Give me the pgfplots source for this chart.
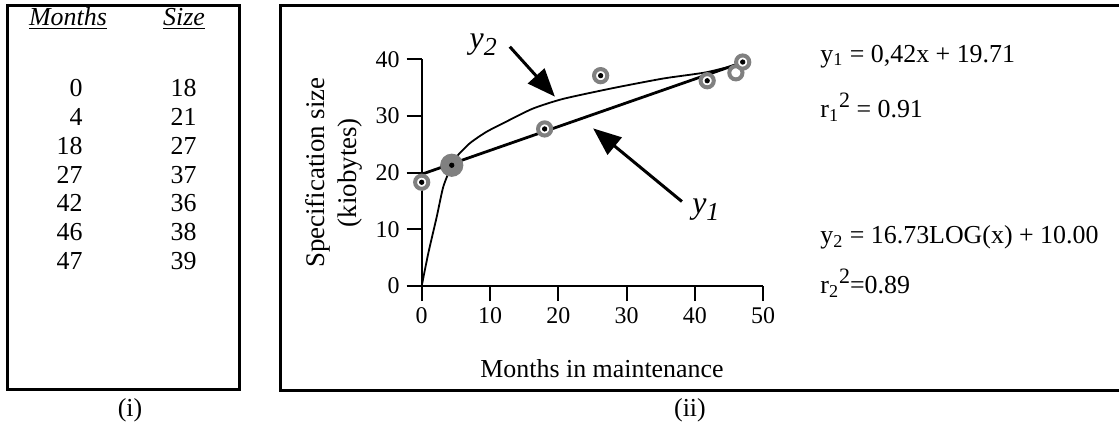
\documentclass[border=0pt]{standalone}
\usepackage{fontspec}
\setmainfont{Liberation Serif}
\usepackage{pgfplots}
\pgfplotsset{compat=1.18}
\usetikzlibrary{arrows.meta}
\begin{document}
\begin{tikzpicture}
\begin{scope}[x=0.5bp,y=-0.5bp]
\draw[line width=1.5bp] (8,6) rectangle (240,390);
\draw[line width=1.5bp] (281,6) rectangle (1135,391);
% table (i)
\node[anchor=base,inner sep=0pt] at (68,25) {\fontsize{13}{13}\selectfont\underline{\textit{Months}}};
\node[anchor=base,inner sep=0pt] at (184,25) {\fontsize{13}{13}\selectfont\underline{\textit{Size}}};
\foreach \m/\s [count=\i from 0] in {0/18,4/21,18/27,27/37,42/36,46/38,47/39}{
  \node[anchor=base east,inner sep=0pt] at (83,{97+28.7*\i}) {\fontsize{13}{13}\selectfont \m};
  \node[anchor=base east,inner sep=0pt] at (197,{97+28.7*\i}) {\fontsize{13}{13}\selectfont \s};
}
\node[anchor=center,inner sep=0pt] at (130,410) {\fontsize{13}{13}\selectfont (i)};
\node[anchor=center,inner sep=0pt] at (690,410) {\fontsize{13}{13}\selectfont (ii)};
% equations
\node[anchor=base west,inner sep=0pt] at (820,62) {\fontsize{13}{13}\selectfont y\textsubscript{1} = 0,42x + 19.71};
\node[anchor=base west,inner sep=0pt] at (820,118) {\fontsize{13}{13}\selectfont r\textsubscript{1}\raisebox{5bp}{\fontsize{11}{11}\selectfont 2} = 0.91};
\node[anchor=base west,inner sep=0pt] at (820,244) {\fontsize{13}{13}\selectfont y\textsubscript{2} = 16.73LOG(x) + 10.00};
\node[anchor=base west,inner sep=0pt] at (820,294) {\fontsize{13}{13}\selectfont r\textsubscript{2}\raisebox{5bp}{\fontsize{11}{11}\selectfont 2}=0.89};
\end{scope}
\begin{axis}[
  at={(210.85bp,-143bp)}, anchor=origin,
  x=3.415bp, y=2.835bp,
  xmin=0, xmax=50, ymin=0, ymax=40,
  axis x line*=bottom, axis y line*=left,
  axis line style={line width=1.1bp,-},
  every tick/.style={line width=1.1bp,black},
  tick align=outside, major tick length=7.5bp,
  xtick={0,10,20,30,40,50}, ytick={0,10,20,30,40},
  tick label style={font=\fontsize{12}{12}\selectfont},
  /pgf/number format/assume math mode=true,
  clip=false,
  xlabel={Months in maintenance},
  xlabel style={font=\fontsize{13}{13}\selectfont, at={(axis description cs:0.528,0)}, anchor=base, yshift=-45.5bp},
  ylabel={Specification size\\(kiobytes)},
  ylabel style={font=\fontsize{13.5}{16.5}\selectfont, align=center, at={(axis description cs:-0.257,0.5)}, anchor=center},
]
% y2 = 16.73 log(x) + 10
\addplot[black, line width=0.9bp, smooth, tension=0.4] coordinates {
(0,0) (0.97,5.8) (2.2,12.2) (3.16,17.5) (4.4,21.3) (5.1,22.8) (7.07,25.2) (9.5,27.2) (12.4,29.0) (16.3,31.3) (20.7,33.0) (28,34.9) (35.4,36.6) (41.7,37.7) (47,39.3)};
% y1 = 0.42x + 19.71
\addplot[black, line width=1.4bp] coordinates {(0,19.71) (47,39.45)};
% data rings
\addplot[only marks, mark=*, mark size=3.3bp, mark options={draw=black!50, fill=white, line width=2bp}] coordinates {
(0,18.3) (18,27.7) (26.2,37.1) (41.8,36.2) (46,37.6) (47,39.5)};
\addplot[only marks, mark=*, mark size=5.3bp, mark options={draw=black!50, fill=black!50, line width=1bp}] coordinates {(4.4,21.3)};
\addplot[only marks, mark=*, mark size=1.1bp, mark options={draw=black, fill=black}] coordinates {
(0,18.3) (4.4,21.3) (18,27.7) (26.2,37.1) (41.8,36.2) (47,39.5)};
% annotations
\draw[line width=1.5bp, -{Triangle[length=14bp,width=11bp]}] (axis cs:12.9,42.2) -- (axis cs:19.5,33.4);
\draw[line width=1.5bp, -{Triangle[length=14bp,width=11bp]}] (axis cs:38.1,14.9) -- (axis cs:25.1,27.8);
\node at (axis cs:9.0,42.5) {\fontsize{16}{16}\selectfont\itshape y\raisebox{-3.5bp}{\fontsize{13}{13}\selectfont 2}};
\node at (axis cs:41.6,13.4) {\fontsize{16}{16}\selectfont\itshape y\raisebox{-3.5bp}{\fontsize{13}{13}\selectfont 1}};
\end{axis}
\pgfresetboundingbox
\path (0,0) rectangle (559.5bp,-211.5bp);
\end{tikzpicture}
\end{document}
